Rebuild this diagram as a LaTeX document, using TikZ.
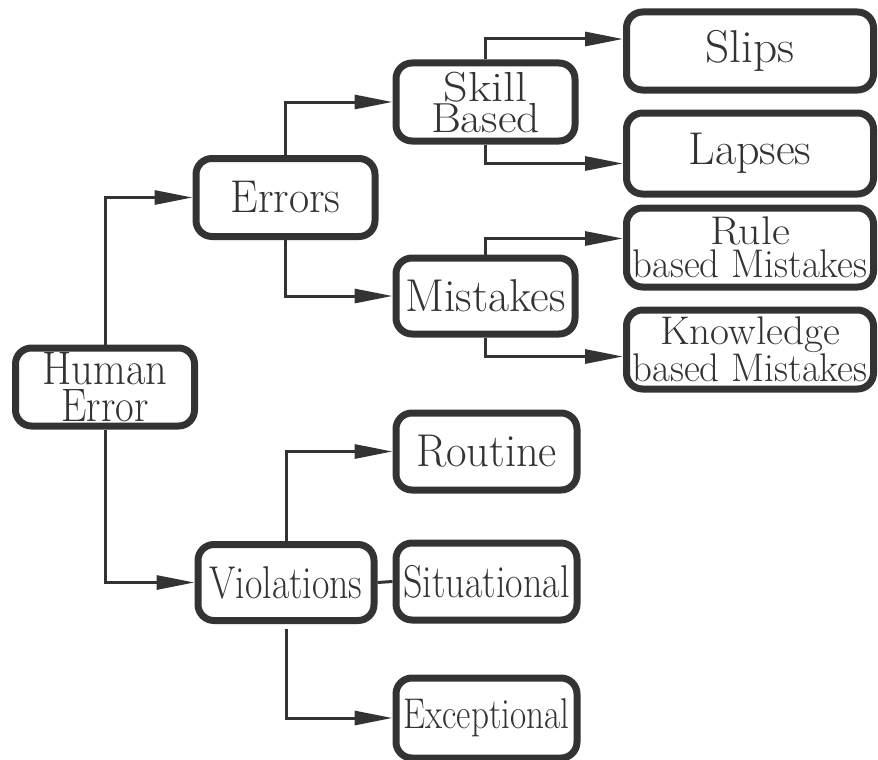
\documentclass[tikz,border=0pt]{standalone}
\usepackage{graphicx}
\usetikzlibrary{arrows.meta}

\definecolor{ink}{HTML}{333333}

\tikzset{
  box/.style={draw=ink, text=ink, line width=7pt, rounded corners=16pt,
    inner sep=0pt, align=center, font=\fontsize{46}{38}\selectfont},
  smallbox/.style={box, minimum width=179pt, minimum height=78pt},
  widebox/.style={box, minimum width=247pt, minimum height=79pt},
  link/.style={draw=ink, line width=3pt, -{Triangle[length=38pt,width=14pt]}},
  plain/.style={draw=ink, line width=3pt},
}

\begin{document}
\begin{tikzpicture}[x=1pt, y=-1pt]

% squeeze a label to a given width, keeping its height
\newcommand\fitto[2]{\resizebox{#1}{\height}{#2}}

\useasboundingbox (0,0) rectangle (878,760);

% root and first level
\node[smallbox, font=\fontsize{47}{37}\selectfont] (human) at (105,387)
  {\fitto{125pt}{Human}\\\fitto{87pt}{Error}};
\node[smallbox] (errors) at (285.5,197.5) {\fitto{110pt}{Errors}};
\node[smallbox, minimum width=176pt, minimum height=76pt] (viol) at (286,582.5)
  {\fitto{153pt}{Violations}};

% errors branch
\node[smallbox, font=\fontsize{42}{31}\selectfont] (skill) at (485.5,102)
  {\fitto{84pt}{Skill}\\\fitto{109pt}{Based}};
\node[smallbox, minimum height=76pt] (mist) at (485.5,296) {\fitto{160pt}{Mistakes}};
\node[widebox, minimum height=78pt] (slips) at (750,51) {\fitto{89pt}{Slips}};
\node[widebox, minimum height=81pt] (lapses) at (750,153.5) {\fitto{123pt}{Lapses}};
\node[widebox, font=\fontsize{40}{33}\selectfont] (rule) at (750,247.5)
  {\fitto{80pt}{Rule}\\\fitto{235pt}{based Mistakes}};
\node[widebox, font=\fontsize{40}{35}\selectfont] (know) at (750,349.5)
  {\fitto{180pt}{Knowledge}\\\fitto{235pt}{based Mistakes}};

% violations branch
\node[smallbox, minimum width=181pt, minimum height=77pt] (routine) at (486.5,451.5)
  {\fitto{141pt}{Routine}};
\node[smallbox, minimum width=181pt, minimum height=77pt] (situ) at (486.5,581.5)
  {\fitto{166pt}{Situational}};
\node[smallbox, minimum width=181pt, minimum height=80pt, font=\fontsize{43}{38}\selectfont]
  (except) at (486.5,718) {\fitto{166pt}{Exceptional}};

% connectors
\draw[link] (human.north) |- (errors.west);
\draw[link] (human.south) |- (viol.west);
\draw[link] (errors.north) |- (skill.west);
\draw[link] (errors.south) |- (mist.west);
\draw[link] (skill.north) |- ([yshift=12pt]slips.west);
\draw[link] (skill.south) |- ([yshift=-10pt]lapses.west);
\draw[link] (mist.north) |- ([yshift=9pt]rule.west);
\draw[link] (mist.south) |- ([yshift=-7pt]know.west);
\draw[link] (viol.north) |- (routine.west);
\draw[link, shorten <=5pt] (viol.south) |- (except.west);
\draw[plain] (viol.east) -- (situ.west);

\end{tikzpicture}
\end{document}
